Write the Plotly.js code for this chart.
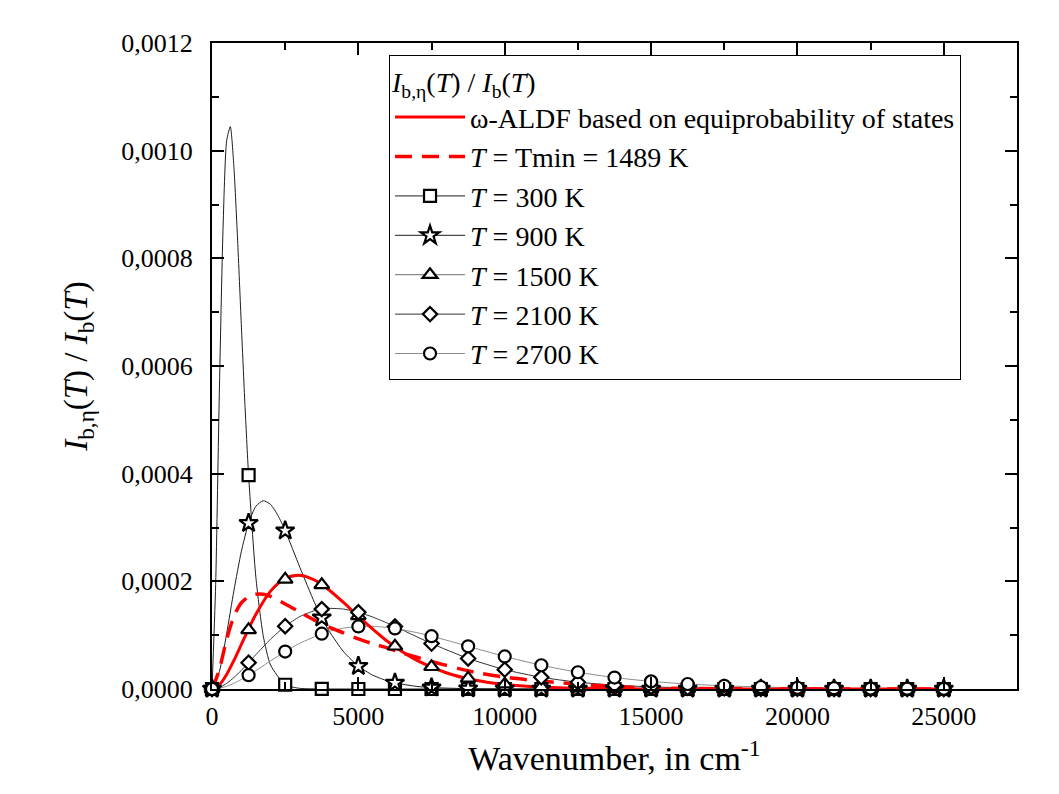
<!DOCTYPE html>
<html>
<head>
<meta charset="utf-8">
<script src="https://cdn.plot.ly/plotly-3.0.1.min.js"></script>
<style>html,body{margin:0;padding:0;background:#fff;}#chart{width:1059px;height:794px;}</style>
</head>
<body>
<div id="chart"></div>
<script>
// Wavenumber grid where symbols are drawn (every 1250 cm-1)
const markerStep = 1250;

// omega-ALDF based on equiprobability of states (red solid)
const xAldf = [0,250,500,750,1000,1250,1500,2000,2500,3000,3500,4000,4500,5000,6000,7000,8000,9000,10000,11000,12500,15000,17500,20000,22500,25000];
const yAldf = [0,7.68e-6,2.702e-5,5.322e-5,8.246e-5,1.1176e-4,1.3895e-4,1.8182e-4,2.0569e-4,2.1130e-4,2.0246e-4,1.8395e-4,1.6026e-4,1.3490e-4,8.822e-5,5.327e-5,3.021e-5,1.637e-5,8.53e-6,4.32e-6,1.49e-6,2.3e-7,0,0,0,0];

// T = Tmin = 1489 K (red dashed)
const xTmin = [0,100,250,500,750,1000,1250,1500,1750,2000,2500,3000,3500,4000,4500,5000,5500,6000,6500,7000,7500,8000,8500,9000,10000,11000,12000,13000,14000,15000,17500,20000,25000];
const yTmin = [0,1.3e-5,3.6e-5,9.2e-5,1.35e-4,1.60e-4,1.71e-4,1.76e-4,1.76e-4,1.72e-4,1.58e-4,1.43e-4,1.28e-4,1.15e-4,1.04e-4,9.3e-5,8.4e-5,7.6e-5,6.7e-5,5.9e-5,5.1e-5,4.4e-5,3.7e-5,3.1e-5,2.2e-5,1.6e-5,1.1e-5,7e-6,4e-6,2e-6,5e-7,0,0];

// T = 300 K
const x300 = [0,125,250,375,500,625,750,875,1000,1125,1250,1500,1750,2000,2500,3000,3750,5000,6250,7500,8750,10000,11250,12500,13750,15000,16250,17500,18750,20000,21250,22500,23750,25000];
const y300 = [0,1.938e-4,5.495e-4,8.522e-4,1.0184e-3,1.0446e-3,9.682e-4,8.338e-4,6.787e-4,5.287e-4,3.973e-4,2.067e-4,9.89e-5,4.45e-5,7.9e-6,1.2e-6,1e-7,0,0,0,0,0,0,0,0,0,0,0,0,0,0,0,0,0];

// T = 900 K
const x900 = [0,250,500,750,1000,1250,1500,1750,2000,2250,2500,3000,3500,3750,4000,4500,5000,5500,6000,6250,7000,7500,8750,10000,11250,12500,13750,15000,16250,17500,18750,20000,21250,22500,23750,25000];
const y900 = [0,3.20e-5,1.027e-4,1.832e-4,2.549e-4,3.081e-4,3.395e-4,3.498e-4,3.429e-4,3.227e-4,2.942e-4,2.262e-4,1.608e-4,1.324e-4,1.077e-4,6.89e-5,4.25e-5,2.54e-5,1.483e-5,1.124e-5,4.76e-6,2.64e-6,5.7e-7,1.2e-7,0,0,0,0,0,0,0,0,0,0,0,0];

// T = 1500 K
const x1500 = [0,250,500,750,1000,1250,1500,1750,2000,2500,3000,3500,3750,4000,4500,5000,6000,6250,7000,7500,8000,8750,10000,11250,12500,13750,15000,16250,17500,18750,20000,21250,22500,23750,25000];
const y1500 = [0,7.52e-6,2.648e-5,5.221e-5,8.099e-5,1.099e-4,1.368e-4,1.603e-4,1.795e-4,2.037e-4,2.099e-4,2.017e-4,1.936e-4,1.839e-4,1.607e-4,1.357e-4,8.94e-5,7.945e-5,5.43e-5,4.134e-5,3.105e-5,1.978e-5,8.90e-6,3.82e-6,1.58e-6,6.3e-7,2.5e-7,1e-7,0,0,0,0,0,0,0];

// T = 2100 K
const x2100 = [0,250,500,750,1000,1250,1500,2000,2500,3000,3500,3750,4000,4500,5000,5500,6000,6250,7000,7500,8750,10000,11250,12500,13750,15000,16250,17500,18750,20000,21250,22500,23750,25000];
const y2100 = [0,2.84e-6,1.038e-5,2.131e-5,3.448e-5,4.892e-5,6.382e-5,9.244e-5,1.1666e-4,1.3453e-4,1.4548e-4,1.484e-4,1.498e-4,1.4845e-4,1.4256e-4,1.3346e-4,1.2217e-4,1.1604e-4,9.695e-5,8.445e-5,5.675e-5,3.594e-5,2.172e-5,1.265e-5,7.15e-6,3.94e-6,2.13e-6,1.13e-6,5.9e-7,3.0e-7,1.5e-7,8e-8,4e-8,2e-8];

// T = 2700 K
const x2700 = [0,250,500,750,1000,1250,1500,2000,2500,3000,3750,4000,4500,5000,5500,6000,6250,7000,7500,8000,8750,10000,11250,12500,13750,15000,16250,17500,18750,20000,21250,22500,23750,25000];
const y2700 = [0,1.36e-6,5.08e-6,1.066e-5,1.764e-5,2.562e-5,3.424e-5,5.220e-5,6.957e-5,8.497e-5,1.027e-4,1.070e-4,1.1316e-4,1.1618e-4,1.1644e-4,1.1431e-4,1.1251e-4,1.0469e-4,9.806e-5,9.078e-5,7.929e-5,6.052e-5,4.414e-5,3.109e-5,2.125e-5,1.416e-5,9.25e-6,5.93e-6,3.75e-6,2.33e-6,1.44e-6,8.8e-7,5.3e-7,3.2e-7];

const seriesNames = ['<i>T</i> = 300 K','<i>T</i> = 900 K','<i>T</i> = 1500 K','<i>T</i> = 2100 K','<i>T</i> = 2700 K'];
const seriesX = [x300, x900, x1500, x2100, x2700];
const seriesY = [y300, y900, y1500, y2100, y2700];
const symbols = ['square','star','triangle-up','diamond','circle'];
const symSizes = [12, 14, 13, 11, 12];
const lineColors = ['#1e1e1e','#1e1e1e','#6e6e6e','#333333','#8c8c8c'];

const FONT = '"Liberation Serif", "Times New Roman", serif';

const traces = [];
// thin curves
for (let i = 0; i < seriesX.length; i++) {
  traces.push({
    x: seriesX[i], y: seriesY[i], mode: 'lines', type: 'scatter',
    name: seriesNames[i], showlegend: false,
    line: {color: lineColors[i], width: 1, shape: 'spline', smoothing: 0.6}
  });
}
traces.push({
  x: xAldf, y: yAldf, mode: 'lines', type: 'scatter',
  name: 'ω-ALDF based on equiprobability of states',
  line: {color: '#ff0000', width: 3, shape: 'spline', smoothing: 0.8}
});
traces.push({
  x: xTmin, y: yTmin, mode: 'lines', type: 'scatter',
  name: '<i>T</i> = Tmin = 1489 K',
  line: {color: '#ff0000', width: 3.5, dash: '17px,10px', shape: 'spline', smoothing: 0.8}
});
// symbols at the 1250 cm-1 grid, taken from the same series
for (let i = 0; i < seriesX.length; i++) {
  const mx = [], my = [];
  seriesX[i].forEach((v, j) => { if (v % markerStep === 0) { mx.push(v); my.push(seriesY[i][j]); } });
  traces.push({
    x: mx, y: my, mode: 'markers', type: 'scatter',
    name: seriesNames[i], showlegend: false, cliponaxis: false,
    marker: {symbol: symbols[i], size: symSizes[i], color: '#ffffff', line: {color: '#000000', width: 2.2}}
  });
}
// legend entries (no data)
for (let i = 0; i < seriesX.length; i++) {
  traces.push({
    x: [null], y: [null], mode: 'lines+markers', type: 'scatter',
    name: seriesNames[i], showlegend: true,
    line: {color: lineColors[i], width: 1},
    marker: {symbol: symbols[i], size: symSizes[i], color: '#ffffff', line: {color: '#000000', width: 2.2}}
  });
}

const layout = {
  width: 1059, height: 794,
  margin: {l: 212, r: 42, t: 43, b: 105},
  paper_bgcolor: '#ffffff', plot_bgcolor: '#ffffff',
  separators: ',.',
  font: {family: FONT, color: '#000000', size: 26},
  showlegend: true,
  legend: {
    x: 0.2199, y: 0.9814, xanchor: 'left', yanchor: 'top',
    bgcolor: '#ffffff', bordercolor: '#000000', borderwidth: 1,
    font: {family: FONT, size: 28, color: '#000000'},
    title: {text: '<i>I</i><sub>b,η</sub>(<i>T</i>) / <i>I</i><sub>b</sub>(<i>T</i>)', font: {family: FONT, size: 28}},
    itemsizing: 'trace',
    itemwidth: 70,
    tracegroupgap: 0
  },
  xaxis: {
    range: [0, 27500],
    tickmode: 'linear', tick0: 0, dtick: 5000,
    tickformat: 'd',
    ticks: 'inside', ticklen: 12, tickwidth: 2, tickcolor: '#000',
    minor: {ticks: 'inside', dtick: 2500, ticklen: 7, tickwidth: 2, tickcolor: '#000'},
    showline: true, linewidth: 2, linecolor: '#000', mirror: 'ticks',
    showgrid: false, zeroline: false,
    tickfont: {family: FONT, size: 26},
    ticklabelstandoff: 3,
    title: {text: 'Wavenumber, in cm<sup>-1</sup>', font: {family: FONT, size: 34}, standoff: 16}
  },
  yaxis: {
    range: [0, 0.0012],
    tickmode: 'linear', tick0: 0, dtick: 0.0002,
    tickformat: '.4f',
    ticks: 'inside', ticklen: 12, tickwidth: 2, tickcolor: '#000',
    minor: {ticks: 'inside', dtick: 0.0001, ticklen: 7, tickwidth: 2, tickcolor: '#000'},
    showline: true, linewidth: 2, linecolor: '#000', mirror: 'ticks',
    showgrid: false, zeroline: false,
    tickfont: {family: FONT, size: 26},
    ticklabelstandoff: 12,
    title: {text: '<i>I</i><sub>b,η</sub>(<i>T</i>) / <i>I</i><sub>b</sub>(<i>T</i>)', font: {family: FONT, size: 33}, standoff: 24}
  }
};

Plotly.newPlot('chart', traces, layout, {displayModeBar: false, staticPlot: true});
</script>
</body>
</html>
